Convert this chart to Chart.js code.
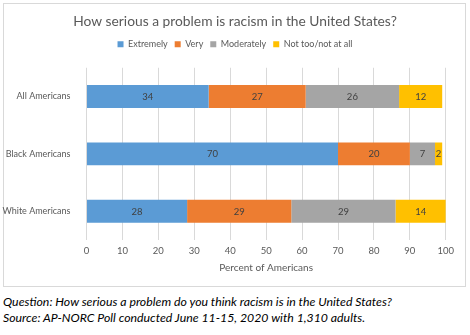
<!DOCTYPE html>
<html>
<head>
<meta charset="utf-8">
<script src="https://cdn.jsdelivr.net/npm/chart.js@4"></script>
<style>
  body { margin: 0; background: #fff; }
  #box { position: absolute; left: 3px; top: 3px; width: 461px; height: 282px; border: 1px solid #d9d9d9; }
  #wrap { position: absolute; left: 0; top: 0; width: 470px; height: 290px; }
  #note { position: absolute; left: 3px; top: 294px; font-family: Lato, sans-serif; font-style: italic; font-size: 12.3px; line-height: 16px; color: #000; white-space: nowrap; }
</style>
</head>
<body>
<div id="box"></div>
<div id="wrap"><canvas id="chart"></canvas></div>
<div id="note">Question: How serious a problem do you think racism is in the United States?<br>Source: AP-NORC Poll conducted June 11-15, 2020 with 1,310 adults.</div>
<script>
const categories = ['All Americans', 'Black Americans', 'White Americans'];
const extremely = [34, 70, 28];
const very = [27, 20, 29];
const moderately = [26, 7, 29];
const notAtAll = [12, 2, 14];
const xTicks = [0, 10, 20, 30, 40, 50, 60, 70, 80, 90, 100];

const FONT = 'Lato, sans-serif';

// value labels in the middle of each bar segment
const barLabels = {
  id: 'barLabels',
  afterDatasetsDraw(chart) {
    const ctx = chart.ctx;
    ctx.save();
    ctx.font = '9.5px ' + FONT;
    ctx.fillStyle = '#404040';
    ctx.textAlign = 'center';
    ctx.textBaseline = 'middle';
    chart.data.datasets.forEach((ds, i) => {
      chart.getDatasetMeta(i).data.forEach((bar, j) => {
        const p = bar.getProps(['x', 'base', 'y'], true);
        ctx.fillText(ds.data[j], (p.x + p.base) / 2, p.y + 0.5);
      });
    });
    ctx.restore();
  }
};

// fixed legend height so the plot starts where it should,
// and title/legend centred on the whole box instead of the padded area
const headerFix = {
  id: 'headerFix',
  beforeLayout(chart) {
    const lg = chart.legend;
    if (lg && !lg._fixed) {
      const fit = lg.fit;
      lg.fit = function () { fit.call(this); this.height = 35; };
      lg._fixed = true;
    }
  },
  afterLayout(chart) {
    [chart.titleBlock, chart.legend].forEach(b => {
      if (b) { b.left = 0; b.right = chart.width; b.width = chart.width; }
    });
  }
};

new Chart(document.getElementById('chart'), {
  type: 'bar',
  data: {
    labels: categories,
    datasets: [
      { label: 'Extremely', data: extremely, backgroundColor: '#5b9bd5' },
      { label: 'Very', data: very, backgroundColor: '#ed7d31' },
      { label: 'Moderately', data: moderately, backgroundColor: '#a5a5a5' },
      { label: 'Not too/not at all', data: notAtAll, backgroundColor: '#ffc000' }
    ]
  },
  options: {
    indexAxis: 'y',
    responsive: true,
    maintainAspectRatio: false,
    animation: false,
    datasets: { bar: { barPercentage: 0.8, categoryPercentage: 0.5 } },
    layout: { padding: { left: 0, right: 24.2, top: 0, bottom: 16.7 } },
    plugins: {
      title: {
        display: true,
        text: 'How serious a problem is racism in the United States?',
        color: '#595959',
        font: { family: FONT, size: 13.8, weight: 'normal' },
        padding: { top: 13, bottom: 3.2 }
      },
      legend: {
        labels: {
          boxWidth: 6, boxHeight: 6, padding: 7,
          color: '#595959',
          font: { family: FONT, size: 9 }
        }
      },
      tooltip: { enabled: false }
    },
    scales: {
      x: {
        stacked: true,
        min: 0, max: 100,
        afterBuildTicks(scale) { scale.ticks = xTicks.map(v => ({ value: v })); },
        afterFit(scale) { scale.height = 33.3; },
        grid: { color: '#d9d9d9', drawTicks: false },
        border: { display: false },
        ticks: { color: '#595959', padding: 5, font: { family: FONT, size: 9.5 } },
        title: { display: true, text: 'Percent of Americans', color: '#595959', padding: { top: 0, bottom: 0 }, font: { family: FONT, size: 10 } }
      },
      y: {
        stacked: true,
        afterFit(scale) { scale.width = 86.5; },
        grid: { display: false },
        border: { display: false },
        ticks: { color: '#595959', padding: 8, font: { family: FONT, size: 9 } }
      }
    }
  },
  plugins: [barLabels, headerFix]
});
</script>
</body>
</html>
